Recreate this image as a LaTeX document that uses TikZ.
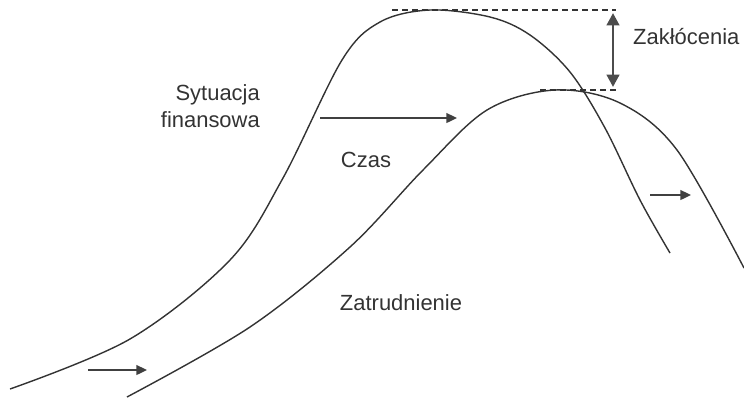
\documentclass[tikz,border=0pt]{standalone}
\usepackage{fontspec}
\setsansfont{Liberation Sans}
\usepackage{tikz}
\usetikzlibrary{arrows.meta, positioning}

\begin{document}
\begin{tikzpicture}[x=0.02cm, y=-0.02cm, >=Stealth,
      curve/.style={draw=black!80, line width=0.8pt},
      lagarrow/.style={draw=black!75, line width=1.1pt,
                    -{Triangle[length=6pt, width=5.5pt]}},
      gap/.style={draw=black!70, line width=1.7pt,
                  {Triangle[length=7pt, width=7pt]}-{Triangle[length=7pt, width=7pt]}},
      level/.style={draw=black!80, line width=0.8pt, dash pattern=on 3.4pt off 2.3pt},
      lbl/.style={font=\sffamily\fontsize{12.5}{15}\selectfont, text=black!80}]

    \useasboundingbox (0,0) rectangle (744,397);

    % Sytuacja finansowa (earlier curve)
    \draw[curve] plot[smooth, tension=0.55] coordinates {
      (10,389) (130,339) (230,260) (283,178) (342,60)
      (380,22) (430,10) (490,17) (530,35) (570,72) (605,128) (640,200) (670,253)};

    % Zatrudnienie (delayed curve)
    \draw[curve] plot[smooth, tension=0.55] coordinates {
      (127,397) (250,327) (350,247) (423,170)
      (487,110) (555,90) (620,103) (677,150) (744,268)};

    % peak levels
    \coordinate (topL) at (392,10);
    \coordinate (topR) at (616,10);
    \coordinate (lowL) at (540,90);
    \coordinate (lowR) at (616,90);
    \draw[level] (topL) -- (topR);
    \draw[level] (lowL) -- (lowR);
    \coordinate (gapT) at (613,13);
    \coordinate (gapB) at (613,87);
    \draw[gap] (gapT) -- (gapB);

    % time lag arrows
    \coordinate (s1a) at (88,370);  \coordinate (s1b) at (147,370);
    \coordinate (s2a) at (320,118); \coordinate (s2b) at (457,118);
    \coordinate (s3a) at (650,195); \coordinate (s3b) at (691,195);
    \draw[lagarrow] (s1a) -- (s1b);
    \draw[lagarrow] (s2a) -- (s2b);
    \draw[lagarrow] (s3a) -- (s3b);

    % labels
    \node[lbl, anchor=west] (zak) at (627,37) {Zakłócenia};
    \node[lbl, align=right, anchor=east] (syt) at (266,106) {Sytuacja\\finansowa};
    \node[lbl] (czas) at (366,160) {Czas};
    \node[lbl] (zat) at (401,303) {Zatrudnienie};

\end{tikzpicture}
\end{document}
